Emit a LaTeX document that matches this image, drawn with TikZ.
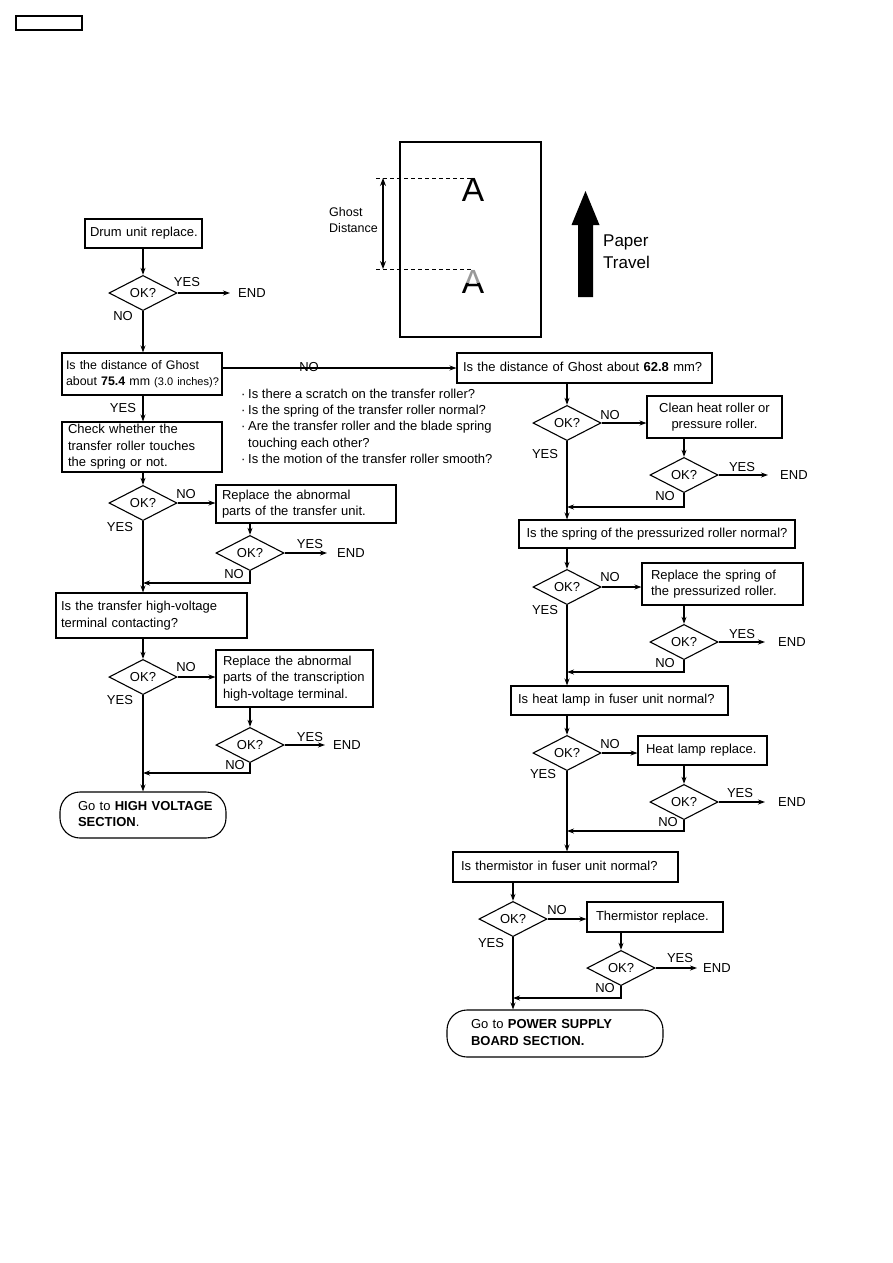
\documentclass[tikz,border=0pt]{standalone}
\usepackage{fontspec}
\setmainfont{Liberation Sans}
\usetikzlibrary{shapes.geometric,arrows.meta}
\newcommand{\lft}[1]{\begin{tabular}{@{}l@{}}#1\end{tabular}}
\newcommand{\ctr}[1]{\begin{tabular}{@{}c@{}}#1\end{tabular}}
\newcommand{\bul}{\makebox[7pt][l]{·}}
\begin{document}
\begin{tikzpicture}[x=1pt,y=-1pt,
  every node/.style={font=\fontsize{13}{16.5}\selectfont},
  arr/.style={-{Stealth[length=7pt,width=5pt]}, line width=1.1pt},
  box/.style={draw, line width=1.1pt, inner ysep=0pt, align=left},
  cbox/.style={draw, line width=1.1pt, inner sep=0pt, align=center},
  dia/.style={draw, diamond, line width=1.1pt, minimum width=68pt, minimum height=28pt, inner sep=0pt},
  lab/.style={inner sep=0pt},
  endn/.style={anchor=west, inner ysep=0pt},
  term/.style={draw, line width=1.1pt, rounded corners=20pt, inner ysep=0pt, align=left}
]
\useasboundingbox (0,0) rectangle (893,1263);

% header box
\draw[line width=1.2pt] (16,16) rectangle (82,30);

% ---------------- ghost illustration ----------------
\node[draw, line width=1.1pt, minimum width=141pt, minimum height=195pt, inner sep=0pt] (paper) at (470.5,239.5) {};
\node[lab, font=\fontsize{33.5}{33.5}\selectfont] (A1) at (473,190) {A};
\begin{scope}
  \clip (455,282) rectangle (495,300);
  \node[lab, font=\fontsize{33.5}{33.5}\selectfont] (A2) at (473,282) {A};
\end{scope}
\begin{scope}
  \clip (455,265) rectangle (495,282);
  \node[lab, font=\fontsize{33.5}{33.5}\selectfont, text=black!40] (A2h) at (473,282) {A};
\end{scope}
\draw[line width=1pt, dash pattern=on 4pt off 3pt] (376,178) -- (472,178);
\draw[line width=1pt, dash pattern=on 4pt off 3pt] (376,269) -- (472,269);
\draw[{Stealth[length=8pt,width=6pt]}-{Stealth[length=8pt,width=6pt]}, line width=1.1pt] (383,178) -- (383,269);
\node[lab, anchor=west, align=left, font=\fontsize{12.5}{16}\selectfont] (gd) at (329,220) {Ghost\\Distance};
\fill (578,297) -- (593,297) -- (593,225) -- (599.5,225) -- (585.5,191) -- (571.5,225) -- (578,225) -- cycle;
\node[lab, anchor=west, align=left, font=\fontsize{17}{22}\selectfont] (pt) at (603,252) {Paper\\Travel};

% ---------------- left column ----------------
\node[box, minimum width=117pt, minimum height=29pt, text width=107pt, inner xsep=5pt] (drum) at (143.5,233.5) {\lft{Drum unit replace.}};
\node[dia] (d1) at (143,293) {OK?};
\node[endn, inner xsep=8pt] (e1) at (230,293) {END};
\node[box, minimum width=160pt, minimum height=42pt, text width=152pt, inner xsep=4pt, font=\fontsize{12.4}{16}\selectfont] (b2) at (142,374)
  {\lft{Is the distance of Ghost\\about \textbf{75.4} mm {\fontsize{11}{16}\selectfont(3.0 inches)?}}};
\node[box, minimum width=255pt, minimum height=30pt, text width=243pt, inner xsep=6pt] (r1) at (584.5,368)
  {\lft{Is the distance of Ghost about \textbf{62.8} mm?}};
\node[lab, anchor=west, font=\fontsize{13}{16.25}\selectfont] (bl) at (241,427.5)
  {\lft{\bul Is there a scratch on the transfer roller?\\
        \bul Is the spring of the transfer roller normal?\\
        \bul Are the transfer roller and the blade spring\\
        \hspace*{7pt}touching each other?\\
        \bul Is the motion of the transfer roller smooth?}};
\node[box, minimum width=160pt, minimum height=50pt, text width=148pt, inner xsep=6pt] (b3) at (142,447)
  {\lft{Check whether the\\transfer roller touches\\the spring or not.}};
\node[dia] (d2) at (143,503) {OK?};
\node[box, minimum width=180pt, minimum height=38pt, text width=168pt, inner xsep=6pt] (b3n) at (306,504)
  {\lft{Replace the abnormal\\parts of the transfer unit.}};
\node[dia] (d2b) at (250,553) {OK?};
\node[endn, inner xsep=10pt] (e2) at (327,553) {END};
\coordinate (j1) at (143,583);
\node[box, minimum width=191pt, minimum height=45pt, text width=181pt, inner xsep=5pt] (b4) at (151.5,615.5)
  {\lft{Is the transfer high-voltage\\terminal contacting?}};
\node[dia] (d3) at (143,677) {OK?};
\node[box, minimum width=157pt, minimum height=57pt, text width=143pt, inner xsep=7pt] (b4n) at (294.5,678.5)
  {\lft{Replace the abnormal\\parts of the transcription\\high-voltage terminal.}};
\node[dia] (d3b) at (250,745) {OK?};
\node[endn, inner xsep=8pt] (e3) at (325,745) {END};
\coordinate (j2) at (143,773);
\node[term, minimum width=166pt, minimum height=46pt, text width=130pt, inner xsep=18pt] (t1) at (143,815)
  {\lft{Go to \textbf{HIGH VOLTAGE}\\\textbf{SECTION}.}};

% left connectors
\draw[arr] (drum.south -| d1.north) -- (d1.north);
\draw[arr] (d1.east) -- (e1.west);
\draw[arr] (d1.south) -- (d1.south |- b2.north);
\draw[arr] (r1.west -| b2.east) -- (r1.west);
\draw[arr] (b2.south -| d1.south) -- (b3.north -| d1.south);
\draw[arr] (b3.south -| d2.north) -- (d2.north);
\draw[arr] (d2.east) -- (d2.east -| b3n.west);
\draw[arr] (d2b.north |- b3n.south) -- (d2b.north);
\draw[arr] (d2b.east) -- (e2.west);
\draw[arr] (d2b.south) |- (j1);
\draw[arr] (d2.south) -- (d2.south |- b4.north);
\draw[arr] (b4.south -| d3.north) -- (d3.north);
\draw[arr] (d3.east) -- (d3.east -| b4n.west);
\draw[arr] (d3b.north |- b4n.south) -- (d3b.north);
\draw[arr] (d3b.east) -- (e3.west);
\draw[arr] (d3b.south) |- (j2);
\draw[arr] (d3.south) -- (d3.south |- t1.north);

% left labels
\node[lab] (l1) at (187,282) {YES};
\node[lab] (l2) at (123,316) {NO};
\node[lab] (l3) at (309,367) {NO};
\node[lab] (l4) at (123,408) {YES};
\node[lab] (l5) at (186,494) {NO};
\node[lab] (l6) at (120,527) {YES};
\node[lab] (l7) at (310,544) {YES};
\node[lab] (l8) at (234,574) {NO};
\node[lab] (l9) at (186,667) {NO};
\node[lab] (l10) at (120,700) {YES};
\node[lab] (l11) at (310,737) {YES};
\node[lab] (l12) at (235,765) {NO};

% ---------------- right column ----------------
\node[dia] (dr1) at (567,423) {OK?};
\node[cbox, minimum width=135pt, minimum height=42pt] (rc1) at (714.5,417) {\ctr{Clean heat roller or\\pressure roller.}};
\node[dia] (dr1b) at (684,475) {OK?};
\node[endn, inner xsep=12pt] (er1) at (768,475) {END};
\coordinate (jr1) at (567,507);
\node[cbox, minimum width=276pt, minimum height=28pt] (r2) at (657,534) {Is the spring of the pressurized roller normal?};
\node[dia] (dr2) at (567,587) {OK?};
\node[box, minimum width=161pt, minimum height=42pt, text width=143pt, inner xsep=9pt] (rc2) at (722.5,584)
  {\lft{Replace the spring of\\the pressurized roller.}};
\node[dia] (dr2b) at (684,642) {OK?};
\node[endn, inner xsep=13pt] (er2) at (765,642) {END};
\coordinate (jr2) at (567,672);
\node[box, minimum width=217pt, minimum height=29pt, text width=203pt, inner xsep=7pt] (r3) at (619.5,700.5)
  {\lft{Is heat lamp in fuser unit normal?}};
\node[dia] (dr3) at (567,753) {OK?};
\node[box, minimum width=129pt, minimum height=29pt, text width=113pt, inner xsep=8pt] (rc3) at (702.5,750.5)
  {\lft{Heat lamp replace.}};
\node[dia] (dr3b) at (684,802) {OK?};
\node[endn, inner xsep=13pt] (er3) at (765,802) {END};
\coordinate (jr3) at (567,831);
\node[box, minimum width=225pt, minimum height=30pt, text width=209pt, inner xsep=8pt] (r4) at (565.5,867)
  {\lft{Is thermistor in fuser unit normal?}};
\node[dia] (dr4) at (513,919) {OK?};
\node[box, minimum width=136pt, minimum height=30pt, text width=118pt, inner xsep=9pt] (rc4) at (655,917)
  {\lft{Thermistor replace.}};
\node[dia] (dr4b) at (621,968) {OK?};
\node[endn, inner xsep=6pt] (er4) at (697,968) {END};
\coordinate (jr4) at (513,998);
\node[term, minimum width=216pt, minimum height=47pt, text width=168pt, inner xsep=24pt] (t2) at (555,1033.5)
  {\lft{Go to \textbf{POWER SUPPLY}\\\textbf{BOARD SECTION.}}};

% right connectors
\draw[arr] (dr1.north |- r1.south) -- (dr1.north);
\draw[arr] (dr1.east) -- (dr1.east -| rc1.west);
\draw[arr] (dr1b.north |- rc1.south) -- (dr1b.north);
\draw[arr] (dr1b.east) -- (er1.west);
\draw[arr] (dr1b.south) |- (jr1);
\draw[arr] (dr1.south) -- (dr1.south |- r2.north);
\draw[arr] (dr2.north |- r2.south) -- (dr2.north);
\draw[arr] (dr2.east) -- (dr2.east -| rc2.west);
\draw[arr] (dr2b.north |- rc2.south) -- (dr2b.north);
\draw[arr] (dr2b.east) -- (er2.west);
\draw[arr] (dr2b.south) |- (jr2);
\draw[arr] (dr2.south) -- (dr2.south |- r3.north);
\draw[arr] (dr3.north |- r3.south) -- (dr3.north);
\draw[arr] (dr3.east) -- (dr3.east -| rc3.west);
\draw[arr] (dr3b.north |- rc3.south) -- (dr3b.north);
\draw[arr] (dr3b.east) -- (er3.west);
\draw[arr] (dr3b.south) |- (jr3);
\draw[arr] (dr3.south) -- (dr3.south |- r4.north);
\draw[arr] (dr4.north |- r4.south) -- (dr4.north);
\draw[arr] (dr4.east) -- (dr4.east -| rc4.west);
\draw[arr] (dr4b.north |- rc4.south) -- (dr4b.north);
\draw[arr] (dr4b.east) -- (er4.west);
\draw[arr] (dr4b.south) |- (jr4);
\draw[arr] (dr4.south) -- (dr4.south |- t2.north);

% right labels
\node[lab] (m1) at (610,415) {NO};
\node[lab] (m2) at (545,454) {YES};
\node[lab] (m3) at (742,467) {YES};
\node[lab] (m4) at (665,496) {NO};
\node[lab] (m5) at (610,577) {NO};
\node[lab] (m6) at (545,610) {YES};
\node[lab] (m7) at (742,634) {YES};
\node[lab] (m8) at (665,663) {NO};
\node[lab] (m9) at (610,744) {NO};
\node[lab] (m10) at (543,774) {YES};
\node[lab] (m11) at (740,793) {YES};
\node[lab] (m12) at (668,822) {NO};
\node[lab] (m13) at (557,910) {NO};
\node[lab] (m14) at (491,943) {YES};
\node[lab] (m15) at (680,958) {YES};
\node[lab] (m16) at (605,988) {NO};
\end{tikzpicture}
\end{document}
